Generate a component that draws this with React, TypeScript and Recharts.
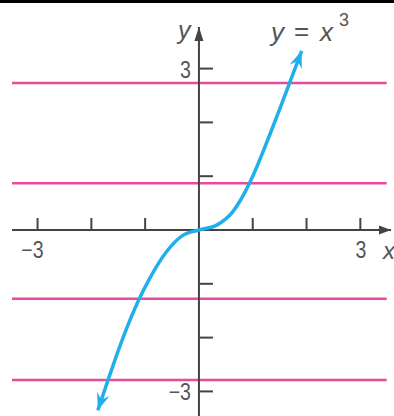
import { ComposedChart, Line, ReferenceDot, ReferenceLine, XAxis, YAxis } from "recharts";

// curve y = x^3 as drawn
const curveX = [-1.88, -1.69, -1.43, -1.1, -0.91, -0.6, -0.3, 0, 0.33, 0.63, 0.95, 1.32, 1.51, 1.71, 1.91];
const curveY = [-3.35, -2.79, -2.05, -1.26, -0.89, -0.4, -0.1, 0, 0.09, 0.34, 0.89, 1.78, 2.27, 2.8, 3.33];

// horizontal test lines
const lineLevels = [2.73, 0.87, -1.28, -2.79];
const lineSpan = [-3.475, 3.49];

const xTicks = [-3, -2, -1, 1, 2, 3];
const yTicks = [3, 2, 1, -1, -2, -3];
const xTickLabels = [
  { v: -3, text: "−3" },
  { v: 3, text: "3" },
];
const yTickLabels = [
  { v: 3, text: "3" },
  { v: -3, text: "−3" },
];

const X_DOMAIN = [-3.475, 3.57];
const Y_DOMAIN = [-3.457, 3.773];

const AXIS = "#444";
const PINK = "#e84a9e";
const BLUE = "#1fb0ea";
const TEXT = "#555";
const FONT = "'Liberation Sans', Arial, sans-serif";

const data = curveX.map((x, i) => ({ x, y: curveY[i] }));

function CurveEnd(props: any) {
  const { cx, cy, index, points } = props;
  const n = points ? points.length : data.length;
  if (index !== 0 && index !== n - 1) return <g key={`d-${index}`} />;
  let dx: number;
  let dy: number;
  if (points) {
    const nb = index === 0 ? points[1] : points[n - 2];
    dx = cx - nb.x;
    dy = cy - nb.y;
  } else {
    const nb = index === 0 ? data[1] : data[n - 2];
    const p = data[index];
    dx = p.x - nb.x;
    dy = -(p.y - nb.y);
  }
  const len = Math.hypot(dx, dy) || 1;
  const ux = dx / len;
  const uy = dy / len;
  const L = 17;
  const W = 6.5;
  const bx = cx - ux * L;
  const by = cy - uy * L;
  const mx = cx - ux * L * 0.65;
  const my = cy - uy * L * 0.65;
  return (
    <polygon
      key={`d-${index}`}
      points={`${cx},${cy} ${bx - uy * W},${by + ux * W} ${mx},${my} ${bx + uy * W},${by - ux * W}`}
      fill={BLUE}
    />
  );
}

// narrow tick label, like the condensed face of the original
function TickText({ x, y, text }: { x: number; y: number; text: string }) {
  return (
    <text
      transform={`translate(${x},${y}) scale(0.85,1)`}
      textAnchor="end"
      fontSize={23}
      fill={TEXT}
      fontFamily={FONT}
    >
      {text}
    </text>
  );
}

const label = { position: "absolute" as const, fontFamily: FONT, color: TEXT, lineHeight: 1, whiteSpace: "nowrap" as const };

export default function App() {
  return (
    <div style={{ position: "absolute", left: 0, top: 0, width: 394, height: 416, background: "#fff", overflow: "hidden" }}>
      <div style={{ position: "absolute", left: 0, top: 0, width: 394, height: 3, background: "#000" }} />
      <ComposedChart
        width={394}
        height={416}
        data={data}
        margin={{ top: 27, right: 3, bottom: 0, left: 12 }}
      >
        <XAxis type="number" dataKey="x" domain={X_DOMAIN} hide allowDataOverflow />
        <YAxis type="number" domain={Y_DOMAIN} hide allowDataOverflow />
        {lineLevels.map((v) => (
          <ReferenceLine
            key={`h-${v}`}
            segment={[
              { x: lineSpan[0], y: v },
              { x: lineSpan[1], y: v },
            ]}
            stroke={PINK}
            strokeWidth={2.5}
            ifOverflow="visible"
          />
        ))}
        <ReferenceLine y={0} stroke={AXIS} strokeWidth={2} ifOverflow="visible" />
        <ReferenceLine x={0} stroke={AXIS} strokeWidth={2} ifOverflow="visible" />
        {xTicks.map((v) => (
          <ReferenceDot
            key={`xt-${v}`}
            x={v}
            y={0}
            ifOverflow="visible"
            shape={(p: any) => <line x1={p.cx} y1={p.cy} x2={p.cx} y2={p.cy - 12} stroke={AXIS} strokeWidth={2} />}
          />
        ))}
        {yTicks.map((v) => (
          <ReferenceDot
            key={`yt-${v}`}
            x={0}
            y={v}
            ifOverflow="visible"
            shape={(p: any) => <line x1={p.cx} y1={p.cy} x2={p.cx + 14} y2={p.cy} stroke={AXIS} strokeWidth={2} />}
          />
        ))}
        {xTickLabels.map((t) => (
          <ReferenceDot
            key={`xl-${t.v}`}
            x={t.v}
            y={0}
            ifOverflow="visible"
            shape={(p: any) => <TickText x={p.cx + 6} y={p.cy + 28} text={t.text} />}
          />
        ))}
        {yTickLabels.map((t) => (
          <ReferenceDot
            key={`yl-${t.v}`}
            x={0}
            y={t.v}
            ifOverflow="visible"
            shape={(p: any) => <TickText x={p.cx - 8} y={p.cy + 9} text={t.text} />}
          />
        ))}
        <ReferenceDot
          x={0}
          y={Y_DOMAIN[1]}
          ifOverflow="visible"
          shape={(p: any) => (
            <polygon points={`${p.cx},${p.cy} ${p.cx - 4.5},${p.cy + 14} ${p.cx + 4.5},${p.cy + 14}`} fill={AXIS} />
          )}
        />
        <ReferenceDot
          x={X_DOMAIN[1]}
          y={0}
          ifOverflow="visible"
          shape={(p: any) => (
            <polygon points={`${p.cx},${p.cy} ${p.cx - 12},${p.cy - 4.5} ${p.cx - 12},${p.cy + 4.5}`} fill={AXIS} />
          )}
        />
        <Line
          type="monotone"
          dataKey="y"
          stroke={BLUE}
          strokeWidth={3.5}
          dot={CurveEnd}
          activeDot={false}
          isAnimationActive={false}
        />
      </ComposedChart>
      <div style={{ ...label, left: 178, top: 18, fontSize: 25, fontStyle: "italic" }}>y</div>
      <div style={{ ...label, left: 383, top: 239, fontSize: 24, fontStyle: "italic" }}>x</div>
      <div style={{ ...label, left: 271, top: 19, fontSize: 26, fontStyle: "italic" }}>y</div>
      <div style={{ ...label, left: 294, top: 18, fontSize: 26 }}>=</div>
      <div style={{ ...label, left: 320, top: 19, fontSize: 26, fontStyle: "italic" }}>x</div>
      <div style={{ ...label, left: 339, top: 11, fontSize: 18 }}>3</div>
    </div>
  );
}
